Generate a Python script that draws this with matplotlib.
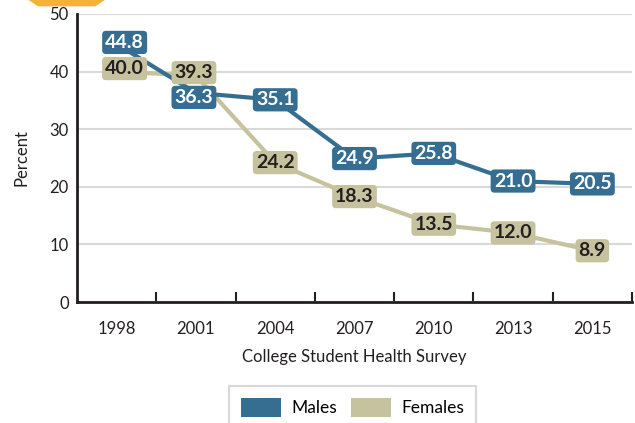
import matplotlib
matplotlib.use("Agg")
import matplotlib.pyplot as plt
from matplotlib.patches import Patch, Polygon

years = ["1998", "2001", "2004", "2007", "2010", "2013", "2015"]
males = [44.8, 36.3, 35.1, 24.9, 25.8, 21.0, 20.5]
females = [40.0, 39.3, 24.2, 18.3, 13.5, 12.0, 8.9]
yticks = [0, 10, 20, 30, 40, 50]

c_m = "#366E91"
c_f = "#C6C29E"

plt.rcParams['font.family'] = ['Lato', 'DejaVu Sans']

fig = plt.figure(figsize=(6.35, 4.23), dpi=100)
ax = fig.add_axes([77 / 635, 0.286, 555 / 635, 0.681])

x = list(range(len(years)))
ax.plot(x, females, color=c_f, lw=3, zorder=3)
ax.plot(x, males, color=c_m, lw=3, zorder=3)

# label nudges (pixels) to avoid collisions, as in the original
nudge_m = {0: (8, 1.5), 1: (-2, -4.5)}
nudge_f = {0: (8, 3), 1: (-2, 3)}

box_style = "round,pad=0.16,rounding_size=0.2"
px2pt = 0.72
for i, (xi, v) in enumerate(zip(x, males)):
    dx, dy = nudge_m.get(i, (0, 0))
    ax.annotate(f"{v:.1f}", (xi, v), xytext=(dx * px2pt, dy * px2pt), textcoords="offset points",
                ha="center", va="center", fontsize=14, fontweight="bold",
                color="white", zorder=5,
                bbox=dict(boxstyle=box_style, fc=c_m, ec="none"))
for i, (xi, v) in enumerate(zip(x, females)):
    dx, dy = nudge_f.get(i, (0, 0))
    ax.annotate(f"{v:.1f}", (xi, v), xytext=(dx * px2pt, dy * px2pt), textcoords="offset points",
                ha="center", va="center", fontsize=14, fontweight="bold",
                color="#231F20", zorder=6,
                bbox=dict(boxstyle=box_style, fc=c_f, ec="none"))

ax.set_xlim(-0.5, 6.5)
ax.set_ylim(0, 50)
ax.set_yticks(yticks)
ax.set_yticklabels([str(t) for t in yticks], fontsize=12, color="#231F20")
ax.set_xticks(x)
ax.set_xticklabels(years, fontsize=12, color="#231F20")
ax.set_xticks([i + 0.5 for i in range(len(years))], minor=True)
ax.tick_params(axis="x", which="major", length=0, pad=14)
ax.tick_params(axis="x", which="minor", length=7, width=1.5, direction="in", color="#231F20")
ax.tick_params(axis="y", length=0, pad=6)
ax.grid(axis="y", color="#D9D9D9", lw=1.5, zorder=0)
ax.set_axisbelow(True)
for s in ["top", "right"]:
    ax.spines[s].set_visible(False)
for s in ["left", "bottom"]:
    ax.spines[s].set_color("#231F20")
    ax.spines[s].set_linewidth(2)

ax.set_ylabel("Percent", fontsize=12, color="#231F20", labelpad=14)
ax.set_xlabel("College Student Health Survey", fontsize=12, color="#231F20", labelpad=8)

handles = [Patch(facecolor=c_m, edgecolor="none", label="Males"),
           Patch(facecolor=c_f, edgecolor="none", label="Females")]
leg = fig.legend(handles=handles, loc="upper center", bbox_to_anchor=(0.555, 0.1087), ncol=2,
                 fontsize=12.5, frameon=True, fancybox=False, edgecolor="#D0D0D0",
                 handlelength=2.3, handleheight=1.3, columnspacing=0.8, handletextpad=0.6,
                 borderpad=0.7)
leg.get_frame().set_linewidth(1.5)

# orange decoration at the top-left corner
fig.patches.append(Polygon([[0.045, 1.0], [0.165, 1.0], [0.15, 0.985], [0.06, 0.985]],
                           closed=True, transform=fig.transFigure, fc="#F5B335", ec="none"))

fig.savefig("out.png", dpi=100)
